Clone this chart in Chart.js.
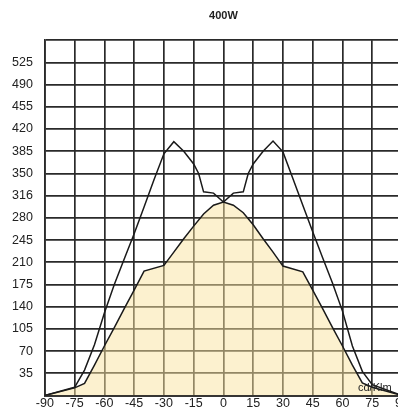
<!DOCTYPE html>
<html>
<head>
    <meta charset="UTF-8">
    <title>400W</title>
    <script src="https://cdn.jsdelivr.net/npm/chart.js"></script>
    <style>
        html, body {
            margin: 0;
            padding: 0;
            overflow: hidden;
            background: #fff;
        }
        #wrap {
            width: 412px;
            height: 415px;
        }
    </style>
</head>
<body>
    <div id="wrap"><canvas id="lightChart"></canvas></div>

    <script>
        // angles (deg) and intensities (cd/Klm)
        const outerAngles = [-90, -75, -70, -65, -60, -55, -50, -45, -40, -35, -30, -25, -20, -15, -12.5, -10, -5, 0,
                             5, 10, 12.5, 15, 20, 25, 30, 35, 40, 45, 50, 55, 60, 65, 70, 75, 90];
        const outerValues = [0, 13, 40, 80, 130, 175, 215, 255, 297, 340, 381, 400, 385, 365, 350, 321, 319, 305,
                             319, 321, 350, 365, 385, 401, 384, 342, 300, 258, 217, 177, 133, 78, 38, 17, 0];

        const innerAngles = [-90, -75, -70, -65, -60, -55, -50, -45, -40, -30, -25, -20, -15, -10, -5, 0,
                             5, 10, 15, 20, 25, 30, 40, 45, 50, 55, 60, 65, 70, 75, 90];
        const innerValues = [0, 12, 19, 48, 78, 107, 137, 166, 196, 205, 226, 247, 267, 286, 300, 305,
                             300, 288, 269, 247, 226, 204, 195, 166, 137, 107, 78, 48, 20, 13, 0];

        const xTicks = [-90, -75, -60, -45, -30, -15, 0, 15, 30, 45, 60, 75, 90];
        const yTickLabels = ['', '35', '70', '105', '140', '175', '210', '245', '280', '316', '350', '385', '420', '455', '490', '525', ''];

        const unitLabel = {
            id: 'unitLabel',
            afterDatasetsDraw(chart) {
                const c = chart.ctx;
                c.save();
                c.font = '11px "Liberation Sans", Arial, sans-serif';
                c.fillStyle = '#222';
                c.textAlign = 'left';
                c.textBaseline = 'alphabetic';
                c.fillText('cd/Klm', 358, 391);
                c.restore();
            }
        };

        const ctx = document.getElementById('lightChart').getContext('2d');
        new Chart(ctx, {
            type: 'line',
            data: {
                datasets: [{
                    data: innerAngles.map((a, i) => ({ x: a, y: innerValues[i] })),
                    borderColor: '#1a1a1a',
                    borderWidth: 1.5,
                    backgroundColor: 'rgba(250, 228, 160, 0.5)',
                    fill: 'origin',
                    pointRadius: 0,
                    tension: 0
                }, {
                    data: outerAngles.map((a, i) => ({ x: a, y: outerValues[i] })),
                    borderColor: '#1a1a1a',
                    borderWidth: 1.5,
                    fill: false,
                    pointRadius: 0,
                    tension: 0
                }]
            },
            options: {
                responsive: true,
                maintainAspectRatio: false,
                animation: false,
                layout: {
                    padding: { left: 0, right: 10, bottom: 0 }
                },
                plugins: {
                    legend: { display: false },
                    tooltip: { enabled: false },
                    title: {
                        display: true,
                        fullSize: false,
                        text: '400W',
                        color: '#222',
                        font: { family: '"Liberation Sans", Arial, sans-serif', size: 11, weight: 'bold' },
                        padding: { top: 9, bottom: 18 }
                    }
                },
                scales: {
                    x: {
                        type: 'linear',
                        min: -90,
                        max: 90,
                        afterBuildTicks: axis => { axis.ticks = xTicks.map(v => ({ value: v })); },
                        ticks: {
                            color: '#222',
                            padding: 1,
                            maxRotation: 0,
                            autoSkip: false,
                            font: { family: '"Liberation Sans", Arial, sans-serif', size: 12.5 },
                            callback: v => String(v)
                        },
                        grid: { color: '#2a2a2a', lineWidth: 1.7, drawTicks: false },
                        border: { color: '#2a2a2a', width: 1.7 }
                    },
                    y: {
                        min: 0,
                        max: 560,
                        ticks: {
                            stepSize: 35,
                            color: '#222',
                            padding: 12,
                            autoSkip: false,
                            font: { family: '"Liberation Sans", Arial, sans-serif', size: 12.5 },
                            callback: (v, i) => yTickLabels[i]
                        },
                        grid: { color: '#2a2a2a', lineWidth: 1.7, drawTicks: false },
                        border: { color: '#2a2a2a', width: 1.7 }
                    }
                }
            },
            plugins: [unitLabel]
        });
    </script>
</body>
</html>
